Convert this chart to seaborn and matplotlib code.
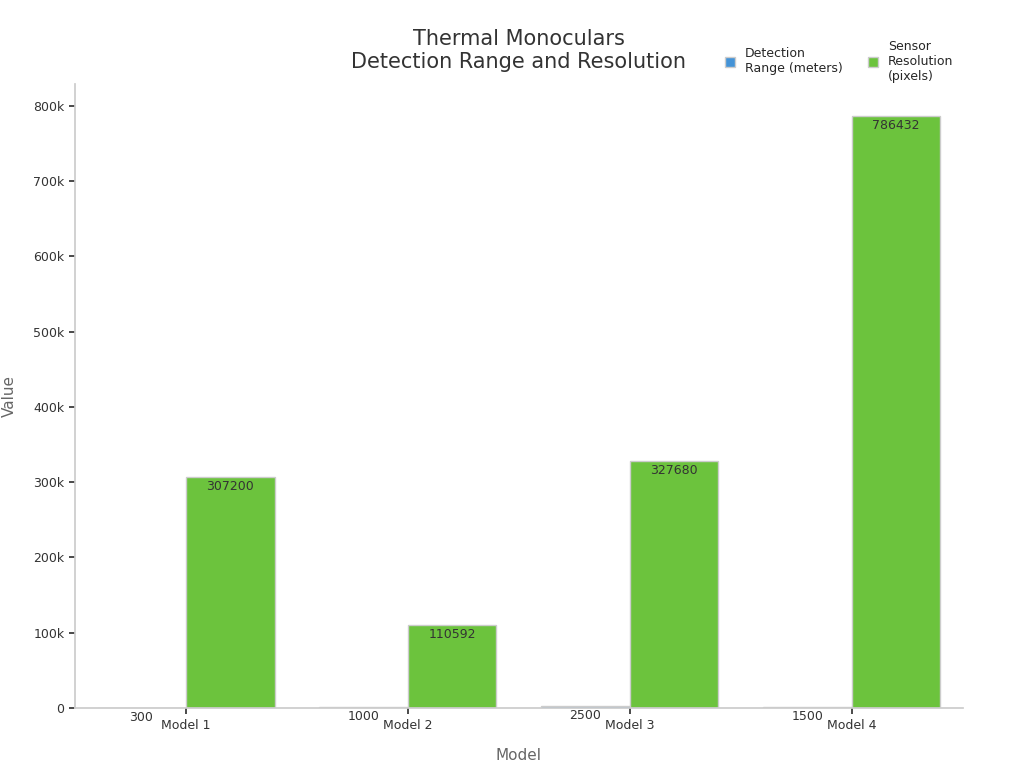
import matplotlib
matplotlib.use("Agg")
import matplotlib.pyplot as plt
import seaborn as sns
import pandas as pd
from matplotlib.ticker import FuncFormatter

models = ["Model 1", "Model 2", "Model 3", "Model 4"]
detection_range = [300, 1000, 2500, 1500]
resolution = [307200, 110592, 327680, 786432]
series = ["Detection\nRange (meters)", "Sensor\nResolution\n(pixels)"]

df = pd.DataFrame({
    "Model": models * 2,
    "Series": [series[0]] * 4 + [series[1]] * 4,
    "Value": detection_range + resolution,
})

sns.set_theme(style="white")
plt.rcParams['font.family'] = ['DejaVu Sans']
fig, ax = plt.subplots(figsize=(10.24, 7.68), dpi=100)
sns.barplot(data=df, x="Model", y="Value", hue="Series",
            palette=["#2b95f0", "#66da26"], edgecolor="#cccccc", linewidth=1,
            width=0.8, ax=ax)
for c in ax.containers:
    for bar in c:
        h = bar.get_height()
        ax.text(bar.get_x() + bar.get_width() / 2, h - 4000, f"{int(h)}",
                ha="center", va="top", fontsize=9, color="#333333")

ax.set_ylim(0, 828000)
ax.yaxis.set_major_formatter(FuncFormatter(lambda v, p: "0" if v == 0 else f"{int(v/1000)}k"))
ax.set_xlabel("Model", fontsize=11, color="#666666", labelpad=12)
ax.set_ylabel("Value", fontsize=11, color="#666666", labelpad=12)
ax.tick_params(axis="both", labelsize=9, colors="#333333", length=4, left=True, bottom=True)
for s in ["top", "right"]:
    ax.spines[s].set_visible(False)
for s in ["left", "bottom"]:
    ax.spines[s].set_color("#cccccc")
ax.set_title("Thermal Monoculars\nDetection Range and Resolution", fontsize=15, color="#333333", pad=12)
ax.legend(loc="upper left", bbox_to_anchor=(0.72, 1.09), ncol=2, frameon=False,
          fontsize=9, handlelength=0.8, handleheight=0.8)
fig.subplots_adjust(left=0.073, right=0.94, top=0.89, bottom=0.078)
fig.savefig("out.png")
